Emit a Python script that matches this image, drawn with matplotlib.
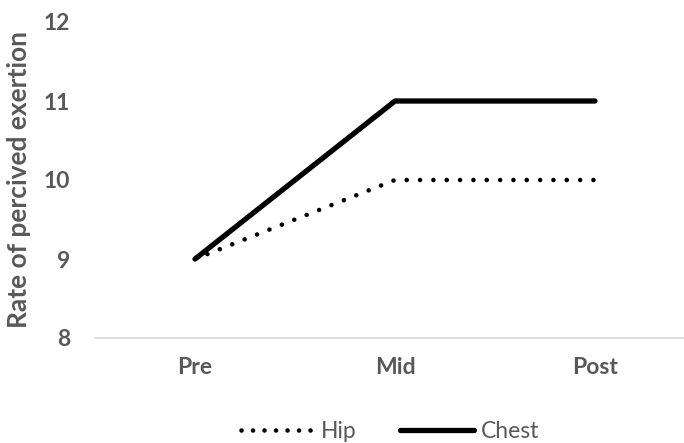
import matplotlib
matplotlib.use("Agg")
import matplotlib.pyplot as plt
from matplotlib.lines import Line2D

categories = ["Pre", "Mid", "Post"]
hip = [9, 10, 10]
chest = [9, 11, 11]
yticks = [8, 9, 10, 11, 12]

plt.rcParams['font.family'] = ['Lato', 'DejaVu Sans']
gray = "#595959"

fig = plt.figure(figsize=(6.84, 4.43), dpi=100)
ax = fig.add_axes([95/684, (443-338)/443, 600/684, (338-22)/443])
x = list(range(len(categories)))

ax.plot(x, hip, color="black", lw=3.3, linestyle=(0, (0.01, 2.9)),
        dash_capstyle="round", solid_capstyle="round", label="Hip")
ax.plot(x, chest, color="black", lw=3.8, solid_capstyle="round",
        solid_joinstyle="round", label="Chest")

ax.set_xlim(-0.5, 2.5)
ax.set_ylim(8, 12)
ax.set_yticks(yticks)
ax.set_xticks(x)
ax.set_xticklabels(categories)
for s in ["top", "right", "left"]:
    ax.spines[s].set_visible(False)
ax.spines["bottom"].set_color("#d9d9d9")
ax.spines["bottom"].set_linewidth(1.2)
ax.tick_params(axis="both", length=0, labelsize=16.5, colors=gray)
ax.tick_params(axis="y", pad=18)
ax.tick_params(axis="x", pad=14)
for lab in ax.get_xticklabels() + ax.get_yticklabels():
    lab.set_fontweight("bold")
ax.set_ylabel("Rate of percived exertion", fontsize=19, fontweight="bold",
              color=gray, labelpad=9)

handles = [Line2D([], [], color="black", lw=3.3, linestyle=(0, (0.01, 2.5)),
                  dash_capstyle="round"),
           Line2D([], [], color="black", lw=3.8, solid_capstyle="round")]
fig.legend(handles, ["Hip", "Chest"], loc="center", bbox_to_anchor=(390/684, 1 - 432/443),
           ncol=2, frameon=False, fontsize=16.5, labelcolor=gray,
           handlelength=3.2, handletextpad=0.3, columnspacing=1.9)

fig.savefig("out.png", dpi=100)
